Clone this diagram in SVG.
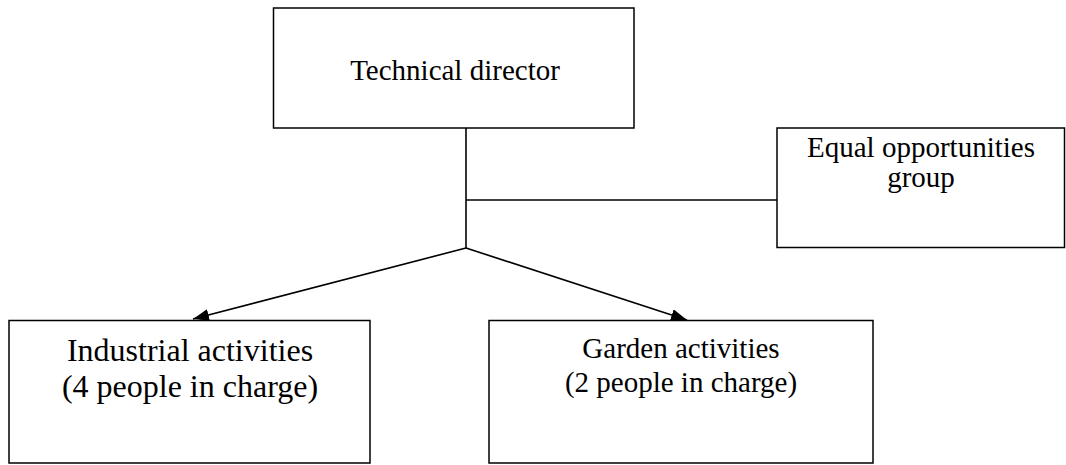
<svg xmlns="http://www.w3.org/2000/svg" width="1066" height="465" viewBox="0 0 1066 465">
<style>
.box{fill:#fff;stroke:#000;stroke-width:1.5}
.ln{fill:none;stroke:#000;stroke-width:1.6}
text{font-family:"Liberation Serif","Times New Roman",serif;fill:#000;text-anchor:middle}
.t29{font-size:29px}
.t32{font-size:32px}
</style>
<defs>
<marker id="arr" viewBox="0 0 16 12" refX="16" refY="6" markerWidth="16" markerHeight="12" markerUnits="userSpaceOnUse" orient="auto">
<path d="M0,0 L16,6 L0,12 Z" fill="#000"/>
</marker>
</defs>
<g id="connectors">
<line class="ln" x1="466" y1="128" x2="466" y2="248"/>
<line class="ln" x1="466" y1="200" x2="777" y2="200"/>
<line class="ln" x1="466" y1="248" x2="193" y2="319" marker-end="url(#arr)"/>
<line class="ln" x1="466" y1="248" x2="687" y2="320" marker-end="url(#arr)"/>
</g>
<g id="technical-director">
<rect class="box" x="273.5" y="8" width="360.5" height="120"/>
<text class="t29" x="455" y="80">Technical director</text>
</g>
<g id="equal-opportunities">
<rect class="box" x="777" y="128" width="287.5" height="119.5"/>
<text class="t29" x="921" y="157">Equal opportunities</text>
<text class="t29" x="921" y="187">group</text>
</g>
<g id="industrial-activities">
<rect class="box" x="9" y="320.5" width="361" height="142.5"/>
<text class="t32" x="190" y="361">Industrial activities</text>
<text class="t32" x="190" y="397">(4 people in charge)</text>
</g>
<g id="garden-activities">
<rect class="box" x="489" y="320.5" width="384" height="142.5"/>
<text class="t29" x="681" y="358">Garden activities</text>
<text class="t29" x="681" y="392">(2 people in charge)</text>
</g>
</svg>
